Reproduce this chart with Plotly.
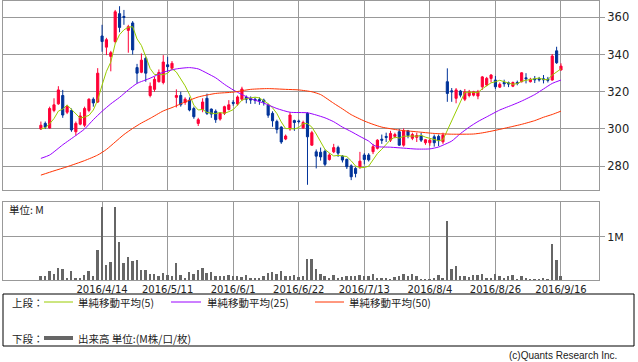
import plotly.graph_objects as go

W, H = 638, 362

# ---------------- data ----------------
tick_idx = [14, 29, 44, 59, 74, 89, 104, 119]
tick_labels = ["2016/4/14", "2016/5/11", "2016/6/1", "2016/6/22",
               "2016/7/13", "2016/8/4", "2016/8/26", "2016/9/16"]

opens = [300, 303, 300.5, 310, 313.5, 318, 309, 310, 298.5, 302.6,
         302, 310, 316, 314.5, 350, 344, 339, 347, 362, 360.5,
         353, 357, 333, 330.5, 338, 318, 321.3, 325.4, 325, 334.5,
         332.6, 317, 318, 314.3, 315.5, 311, 303, 310.5, 316.5, 310.7,
         309.5, 305.3, 308.4, 310.5, 314.3, 313.4, 316, 317, 316.3, 316,
         315.8, 315.5, 312.8, 308.4, 304, 301, 294.6, 300, 304.5, 304.3,
         300.6, 308.4, 291.3, 287.7, 287.5, 288, 283.6, 287.7, 290, 285.4,
         283.7, 280.2, 278.8, 279.7, 286, 286, 287.8, 289.6, 294.5, 296,
         294, 296, 298.5, 291.3, 299, 295, 295.5, 296.4, 292.6, 292.6,
         295.8, 296, 293.1, 325.4, 320.5, 316.5, 320.4, 316, 318, 318.2,
         317.7, 322.7, 323.6, 327.2, 326.3, 322.5, 325, 324.8, 323, 325,
         325.4, 327.5, 325.4, 327, 327, 327, 326.8, 326.3, 342, 331.7]

highs = [304, 304, 312, 316.5, 323, 321, 313, 311, 304, 309,
         312, 316.5, 317, 332.7, 356, 349, 342, 364, 366, 364,
         356, 358, 335, 340.6, 339, 325, 328, 332, 339.7, 338.8,
         336.5, 321.3, 320, 317, 317, 312, 306, 316.5, 319, 311,
         310.5, 309, 312.5, 315.5, 315.5, 318, 322.7, 318, 317.5, 317,
         317, 316.3, 313.6, 309.5, 305, 301.5, 297, 309, 305, 305,
         304.5, 309, 299, 289, 290, 289, 287, 292, 291, 286,
         284, 281, 279.5, 287.7, 287, 287, 292, 294.5, 297, 298,
         299, 298, 300, 300.3, 299.5, 298, 298, 298, 294.5, 294.5,
         297, 297, 298, 332.6, 322, 322, 321, 321.5, 321, 320.5,
         321, 328.5, 328, 329.5, 328.5, 325, 326.5, 325.5, 325.5, 326,
         330.5, 330, 327.5, 328.5, 328, 329, 328, 340.3, 344.2, 335.3]

lows = [299.5, 300, 300, 309, 313, 306, 308, 298.5, 296.5, 302,
        301, 309, 312, 314, 341.5, 339.7, 331, 346, 352, 356,
        341, 340, 324.5, 330, 325.4, 317, 320, 325, 324, 330.8,
        332, 311.6, 312, 313, 309.5, 305.5, 301.6, 309, 307.5, 306,
        303.3, 304.5, 307.5, 310, 312.5, 312.5, 315, 313.8, 313.5, 313.5,
        313, 312.6, 306, 301.2, 297.6, 292, 294, 299, 299, 303,
        300, 270, 291, 278.8, 283, 280, 283, 287, 285, 282,
        278.5, 272.5, 274, 278.5, 281, 282.5, 286.5, 289, 292, 293,
        293, 295, 291, 290.5, 295, 294, 293, 293, 291.5, 291,
        290.5, 290.8, 292, 314.6, 314.6, 313.8, 317, 315, 317, 317.5,
        316, 321, 323, 325, 321.5, 322, 322.7, 322.5, 322.5, 323.5,
        325, 324.5, 325, 324.7, 325.5, 324.5, 325, 326, 335, 331.5]

closes = [302, 301, 311, 313, 321, 307.5, 312, 299.5, 303, 307,
          311, 316, 314, 330, 347, 348, 341, 363, 354.6, 360,
          355, 342.5, 330, 337, 330, 323, 326.7, 330.4, 336, 333.5,
          335.3, 318, 313, 316, 310.2, 306.6, 305, 314.5, 308.4, 308,
          305, 308.4, 312, 313, 313.8, 317.2, 321.5, 316, 315.6, 315.4,
          315.2, 314.5, 307.4, 304.4, 299.8, 293, 296.2, 307.5, 303.5, 304,
          303.5, 295.8, 298, 285.4, 285, 281, 286, 290, 287, 283.3,
          279.7, 274.3, 276.1, 282.7, 283.6, 283.4, 290.5, 294, 294, 295.5,
          297.6, 297, 291.3, 299, 296.5, 297, 296.5, 294, 294.2, 294,
          292.6, 293.7, 296.7, 319.1, 320, 321, 318.2, 320, 320, 320,
          320, 328, 327.2, 329, 322.7, 324, 324.3, 324.2, 325, 324.5,
          330.2, 327, 326.7, 326.5, 326.5, 326.5, 326.2, 339.2, 335.6, 333.8]

# volume, in millions
volumes = [0.09, 0.09, 0.21, 0.14, 0.29, 0.25, 0.06, 0.21, 0.06, 0.06,
           0.12, 0.21, 0.09, 0.69, 1.69, 0.35, 0.42, 1.69, 0.88, 0.40,
           0.54, 0.45, 0.48, 0.23, 0.23, 0.15, 0.14, 0.09, 0.16, 0.12,
           0.09, 0.40, 0.12, 0.05, 0.19, 0.15, 0.23, 0.28, 0.17, 0.19,
           0.09, 0.09, 0.09, 0.12, 0.09, 0.09, 0.08, 0.12, 0.06, 0.06,
           0.05, 0.09, 0.16, 0.19, 0.14, 0.21, 0.09, 0.09, 0.12, 0.08,
           0.09, 0.50, 0.50, 0.27, 0.14, 0.09, 0.06, 0.12, 0.05, 0.08,
           0.09, 0.11, 0.09, 0.12, 0.11, 0.09, 0.14, 0.05, 0.05, 0.06,
           0.03, 0.08, 0.09, 0.15, 0.09, 0.14, 0.09, 0.04, 0.04, 0.04,
           0.05, 0.12, 0.05, 1.38, 0.27, 0.32, 0.09, 0.09, 0.08, 0.12,
           0.12, 0.14, 0.05, 0.05, 0.14, 0.09, 0.05, 0.09, 0.12, 0.04,
           0.09, 0.05, 0.03, 0.03, 0.04, 0.05, 0.04, 0.83, 0.48, 0.09]

ma5 = [300.0, 300.6, 302.8, 305.6, 309.6, 310.7, 312.9, 310.6, 308.6, 305.8,
       306.5, 307.3, 310.2, 315.6, 323.6, 331.0, 336.0, 345.8, 350.7, 353.3,
       354.7, 355.0, 348.4, 344.9, 338.9, 332.5, 329.3, 329.4, 329.2, 329.9,
       332.4, 330.6, 327.2, 323.2, 318.5, 312.8, 310.2, 310.5, 308.9, 308.5,
       308.2, 308.9, 308.4, 309.3, 310.4, 312.9, 315.5, 316.3, 316.8, 317.1,
       316.7, 315.3, 313.6, 311.4, 308.3, 303.8, 300.2, 300.2, 300.0, 300.8,
       302.9, 302.9, 301.0, 297.3, 293.5, 289.0, 287.1, 285.5, 285.8, 285.5,
       285.2, 282.9, 280.1, 279.2, 279.3, 280.0, 283.3, 286.8, 289.1, 291.5,
       294.3, 295.6, 295.1, 296.1, 296.3, 296.2, 296.1, 296.6, 295.6, 295.1,
       294.3, 293.7, 294.2, 299.2, 304.4, 310.1, 315.0, 319.7, 319.8, 319.8,
       319.6, 321.6, 323.0, 324.8, 325.4, 326.2, 325.4, 324.8, 324.0, 324.4,
       325.6, 326.2, 326.7, 327.0, 327.4, 326.6, 326.5, 329.0, 330.8, 332.3]

ma25_idx = [0, 2, 5, 8, 10, 12, 14, 16, 18, 20, 22, 25, 28, 31, 34, 36, 38,
            40, 42, 44, 46, 48, 51, 54, 57, 61, 63, 65, 67, 69, 71, 73, 75,
            76, 77, 80, 83, 86, 89, 91, 92, 94, 96, 98, 100, 102, 105, 108,
            110, 113, 115, 117, 119]
ma25 = [284.2, 286, 291.5, 296.5, 300, 305, 309.5, 313.5, 317, 321, 324.5,
        327.3, 330.5, 332.3, 333, 332.3, 330, 327.5, 324, 321, 318.5, 316.3,
        313.9, 311, 309, 308.7, 307.5, 306, 303.9, 301, 298.6, 296, 293.5,
        291.5, 290.5, 290.2, 289.7, 289.2, 289.3, 290.3, 291.3, 293.5, 297.5,
        301, 304, 306.5, 310.2, 313, 315, 318.5, 321.5, 324.5, 326.3]

ma50_idx = [0, 3, 6, 10, 13, 15, 17, 19, 21, 23, 25, 28, 30, 33, 36, 40, 44,
            48, 52, 56, 59, 62, 64, 67, 69, 71, 74, 76, 78, 82, 86, 90, 94,
            99, 101, 103, 105, 108, 110, 113, 115, 117, 119]
ma50 = [275.2, 277.5, 279.7, 283, 286, 289, 293, 297, 300.3, 303.2, 305.7,
        309.7, 311.5, 314.5, 317.2, 319.1, 319.8, 321.3, 321.7, 321.3, 321,
        320, 318.5, 313.8, 310.8, 307.7, 304.3, 302.5, 301, 299.4, 298.5,
        297.6, 297.2, 297.3, 297.9, 298.8, 299.8, 301.4, 302.5, 304.5, 306.3,
        307.8, 309.6]

price_ticks = [280, 300, 320, 340, 360]

# ---------------- styling ----------------
RED = "#ff0036"
BLUE = "#003399"
C_MA5 = "#99cc00"
C_MA25 = "#9900ff"
C_MA50 = "#ff3300"
GRID = "#999999"
TXT = "#222222"
FONT = "DejaVu Sans, Noto Sans CJK JP, sans-serif"
JFONT = "Noto Sans CJK JP, DejaVu Sans, sans-serif"


def px(x):
    return x / W


def py(y):
    return 1 - y / H


xs = list(range(len(closes)))
xrange_ = [-8.6, 127.7]

fig = go.Figure()

fig.add_trace(go.Candlestick(
    x=xs, open=opens, high=highs, low=lows, close=closes,
    increasing=dict(line=dict(color=RED, width=1), fillcolor=RED),
    decreasing=dict(line=dict(color=BLUE, width=1), fillcolor=BLUE),
    whiskerwidth=0, xaxis="x", yaxis="y", showlegend=False,
))

fig.add_trace(go.Scatter(x=xs, y=ma5, mode="lines",
                         line=dict(color=C_MA5, width=1),
                         xaxis="x", yaxis="y", showlegend=False))
fig.add_trace(go.Scatter(x=ma25_idx, y=ma25, mode="lines",
                         line=dict(color=C_MA25, width=1, shape="spline",
                                   smoothing=0.6),
                         xaxis="x", yaxis="y", showlegend=False))
fig.add_trace(go.Scatter(x=ma50_idx, y=ma50, mode="lines",
                         line=dict(color=C_MA50, width=1, shape="spline",
                                   smoothing=0.6),
                         xaxis="x", yaxis="y", showlegend=False))

fig.add_trace(go.Bar(x=xs, y=volumes, width=0.55,
                     marker=dict(color="#666666", line=dict(width=0)),
                     xaxis="x2", yaxis="y2", showlegend=False))

dom_x = [px(3.3), px(599)]

axis_common = dict(showgrid=True, gridcolor=GRID, gridwidth=1, zeroline=False,
                   showline=True, mirror=True, linecolor=GRID, linewidth=1)

fig.update_layout(
    width=W, height=H, autosize=False,
    margin=dict(l=0, r=0, t=0, b=0),
    paper_bgcolor="white", plot_bgcolor="white",
    bargap=0,
    xaxis=dict(domain=dom_x, range=xrange_, anchor="y",
               tickvals=tick_idx, showticklabels=False, ticks="",
               rangeslider=dict(visible=False), **axis_common),
    yaxis=dict(domain=[py(190), py(1)], range=[267.2, 368.8], anchor="x",
               side="right", tickvals=price_ticks, ticks="outside", ticklen=5,
               tickcolor=GRID, tickfont=dict(family=FONT, size=11.5, color=TXT),
               **axis_common),
    xaxis2=dict(domain=dom_x, range=xrange_, anchor="y2",
                tickvals=tick_idx, ticktext=tick_labels, ticks="",
                tickfont=dict(family=FONT, size=10, color=TXT),
                rangeslider=dict(visible=False), **axis_common),
    yaxis2=dict(domain=[py(280), py(201.7)], range=[0, 1.81], anchor="x2",
                side="right", tickvals=[1], ticktext=["1M"], ticks="outside",
                ticklen=5, tickcolor=GRID,
                tickfont=dict(family=FONT, size=11, color=TXT),
                **axis_common),
    showlegend=False,
)

# legend box and entries
shapes = [
    dict(type="rect", xref="paper", yref="paper",
         x0=px(3), x1=px(634), y0=py(346), y1=py(294),
         line=dict(color="black", width=1)),
    dict(type="line", xref="paper", yref="paper", x0=px(44), x1=px(73),
         y0=py(302), y1=py(302), line=dict(color=C_MA5, width=1)),
    dict(type="line", xref="paper", yref="paper", x0=px(171), x1=px(201),
         y0=py(302), y1=py(302), line=dict(color=C_MA25, width=1)),
    dict(type="line", xref="paper", yref="paper", x0=px(315), x1=px(344),
         y0=py(302), y1=py(302), line=dict(color=C_MA50, width=1)),
    dict(type="line", xref="paper", yref="paper", x0=px(44), x1=px(73),
         y0=py(338), y1=py(338), line=dict(color="#666666", width=4)),
]
fig.update_layout(shapes=shapes)


def ann(text, x, y, anchor="left", size=10.5, font=JFONT):
    return dict(text=text, x=px(x), y=py(y), xref="paper", yref="paper",
                xanchor=anchor, yanchor="middle", showarrow=False,
                font=dict(family=font, size=size, color=TXT))


annotations = [
    ann("上段：", 10, 302),
    ann("単純移動平均(5)", 76, 302),
    ann("単純移動平均(25)", 205, 302),
    ann("単純移動平均(50)", 347, 302),
    ann("下段：", 10, 338),
    ann("出来高 単位:(M株/口/枚)", 76, 338),
    ann("単位: M", 7, 209, size=10.5),
    ann("(c)Quants Research Inc.", 619, 355, anchor="right", size=10,
        font="Liberation Sans, DejaVu Sans, sans-serif"),
]
fig.update_layout(annotations=annotations)

fig.write_html(
    "out.html",
    config={"displayModeBar": False},
    post_script="document.body.style.margin='0px';document.body.style.padding='0px';",
)
